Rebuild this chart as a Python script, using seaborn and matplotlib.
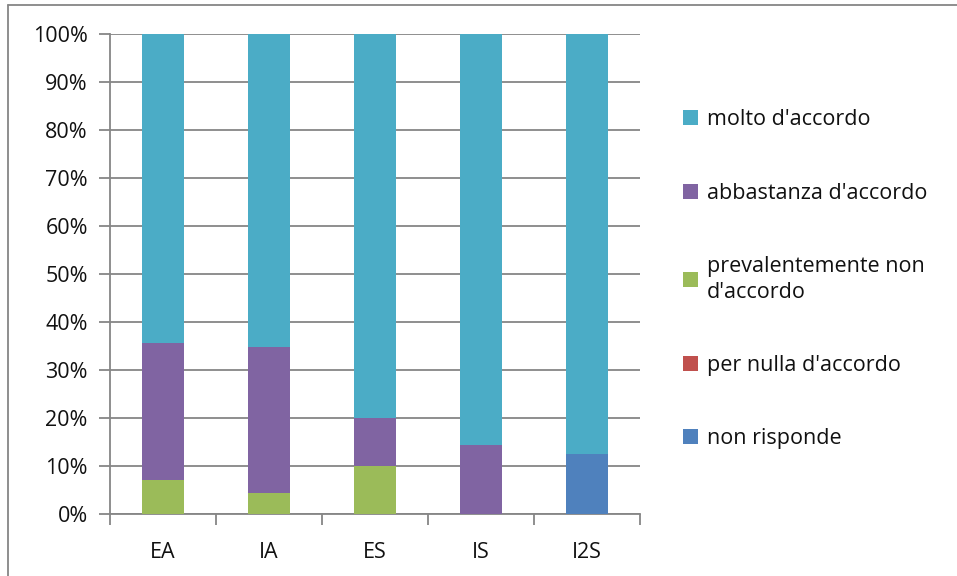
import matplotlib
matplotlib.use("Agg")
import matplotlib.pyplot as plt
from matplotlib.patches import Patch
from matplotlib.lines import Line2D
import numpy as np
import seaborn as sns

# Response shares (%) per course
categories = ["EA", "IA", "ES", "IS", "I2S"]
molto = [64.3, 65.2, 80.0, 85.7, 87.5]
abbastanza = [28.6, 30.4, 10.0, 14.3, 0.0]
prevalentemente = [7.1, 4.3, 10.0, 0.0, 0.0]
per_nulla = [0.0, 0.0, 0.0, 0.0, 0.0]
non_risponde = [0.0, 0.0, 0.0, 0.0, 12.5]

series_labels = ["molto d'accordo", "abbastanza d'accordo",
                 "prevalentemente non\nd'accordo", "per nulla d'accordo",
                 "non risponde"]
series_colors = ["#4BACC6", "#8064A2", "#9BBB59", "#C0504D", "#4F81BD"]
y_ticks = [0, 10, 20, 30, 40, 50, 60, 70, 80, 90, 100]

sns.set_theme(style="white")
plt.rcParams["font.family"] = ["Open Sans", "DejaVu Sans"]
FS = 15.5
TXT = "#111111"

fig = plt.figure(figsize=(9.57, 5.76), dpi=100)
ax = fig.add_axes([0.115, 0.1076, 0.554, 0.8334])

# stack from the bottom: non risponde, per nulla, prevalentemente, abbastanza, molto
stack = [non_risponde, per_nulla, prevalentemente, abbastanza, molto]
stack_colors = series_colors[::-1]
cum = np.cumsum(np.array(stack), axis=0)

# draw the tallest cumulative layer first, each lower layer on top of it
for level in range(len(stack) - 1, -1, -1):
    sns.barplot(x=categories, y=cum[level], color=stack_colors[level],
                saturation=1, width=0.4, ax=ax, edgecolor="none",
                linewidth=0, zorder=3)

grid_c = "#868686"
ax.set_ylim(0, 100)
ax.set_xlim(-0.5, len(categories) - 0.5)
ax.set_yticks(y_ticks)
ax.set_yticklabels([f"{v}%" for v in y_ticks], fontsize=FS, color=TXT)
ax.yaxis.grid(True, color=grid_c, linewidth=1.3, zorder=0)
ax.set_axisbelow(True)
ax.tick_params(axis="x", which="major", length=0, pad=20, labelsize=FS,
               labelcolor=TXT)
ax.set_xticks(np.arange(-0.5, len(categories), 1.0), minor=True)
ax.tick_params(axis="x", which="minor", length=8, color=grid_c, width=1.3,
               direction="out", bottom=True)
ax.tick_params(axis="y", length=8, color=grid_c, width=1.3, direction="out",
               left=True, pad=8)
for s in ["top", "right"]:
    ax.spines[s].set_visible(False)
for s in ["left", "bottom"]:
    ax.spines[s].set_color(grid_c)
    ax.spines[s].set_linewidth(1.3)
ax.set_xlabel("")
ax.set_ylabel("")

handles = [Patch(facecolor=c, edgecolor="none") for c in series_colors]
leg = fig.legend(handles, series_labels, loc="upper left",
                 bbox_to_anchor=(0.705, 0.825), frameon=False, fontsize=FS,
                 labelspacing=2.43, handlelength=0.7, handleheight=0.7,
                 handletextpad=0.4, borderaxespad=0)
for t in leg.get_texts():
    t.set_color(TXT)
    t.set_linespacing(1.3)

# chart frame
fig.add_artist(Line2D([0.0085, 0.0085], [0, 0.992], transform=fig.transFigure,
                      color=grid_c, linewidth=1.3))
fig.add_artist(Line2D([0.0085, 1], [0.992, 0.992], transform=fig.transFigure,
                      color=grid_c, linewidth=1.3))

fig.savefig("out.png", dpi=100, facecolor="white")
